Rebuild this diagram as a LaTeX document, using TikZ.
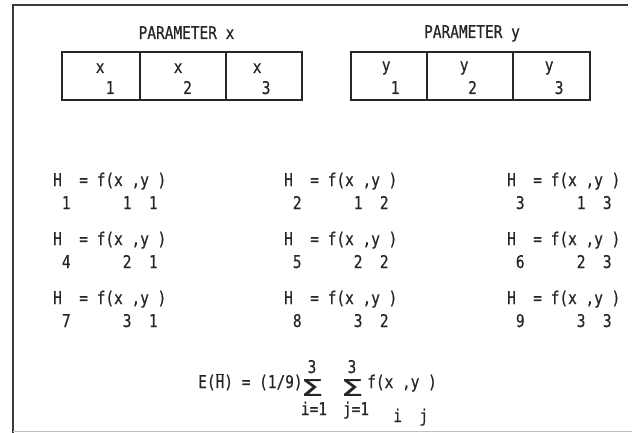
\documentclass[tikz,border=0pt]{standalone}
\usepackage{graphicx}
\usepackage{fontspec}
\newfontfamily\plotfont[FakeStretch=0.826,FakeBold=0.6]{DejaVu Sans Mono}
\newfontfamily\sigfont[FakeBold=0.6]{DejaVu Sans}
\newcommand\ph{\hphantom{0}}
\definecolor{ink}{HTML}{262626}
\definecolor{frameline}{HTML}{3A3A3A}
\newcommand\hexpr[6]{%
  \node[txt] (#1) at (#2,#3) {H\ph\ph=\ph f(x\ph,y\ph)};
  \node[txt] (#1s) at (#2,#3+23) {\ph#4\ph\ph\ph\ph\ph\ph#5\ph\ph#6};}
\begin{document}
\begin{tikzpicture}[x=1pt,y=-1pt,
  txt/.style={font=\plotfont\fontsize{17.5}{19}\selectfont, text=ink, inner sep=0pt, anchor=base west},
  ctxt/.style={txt, anchor=base},
  sig/.style={font=\sigfont\fontsize{21}{21}\selectfont, text=ink, inner sep=0pt, anchor=center},
  boxline/.style={draw=ink, line width=1.8pt}]
\useasboundingbox[fill=white] (0,0) rectangle (632,433);
% frame
\draw[frameline, line width=1.6pt] (13,433) -- (13,5) -- (628,5);
\draw[black!25, line width=1pt] (13,431.5) -- (632,431.5);
% titles
\node[ctxt] (px) at (186.5,39) {PARAMETER x};
\node[ctxt] (py) at (472,38) {PARAMETER y};
% boxes
\draw[boxline] (62,52) rectangle (302,100);
\draw[boxline] (140,52) -- (140,100) (226,52) -- (226,100);
\draw[boxline] (351,52) rectangle (590,100);
\draw[boxline] (427,52) -- (427,100) (513,52) -- (513,100);
% cell contents
\node[txt] (x1) at (95.6,73) {x};  \node[txt] (x1s) at (105.6,94) {1};
\node[txt] (x2) at (173.6,73) {x}; \node[txt] (x2s) at (183,94) {2};
\node[txt] (x3) at (252.6,73) {x}; \node[txt] (x3s) at (261.6,94) {3};
\node[txt] (y1) at (381.6,71) {y}; \node[txt] (y1s) at (390.6,94) {1};
\node[txt] (y2) at (459.6,71) {y}; \node[txt] (y2s) at (468,94) {2};
\node[txt] (y3) at (544.6,71) {y}; \node[txt] (y3s) at (554.6,94) {3};
% H expressions
\hexpr{h1}{53}{186}{1}{1}{1}
\hexpr{h2}{284}{186}{2}{1}{2}
\hexpr{h3}{507}{186}{3}{1}{3}
\hexpr{h4}{53}{245}{4}{2}{1}
\hexpr{h5}{284}{245}{5}{2}{2}
\hexpr{h6}{507}{245}{6}{2}{3}
\hexpr{h7}{53}{304}{7}{3}{1}
\hexpr{h8}{284}{304}{8}{3}{2}
\hexpr{h9}{507}{304}{9}{3}{3}
% expectation
\node[txt] (ee) at (198,388) {E($\overline{\mbox{H}}$)\ph=\ph(1/9)};
\node[sig] (s1) at (312,387.5) {\scalebox{1.7}[1.1]{Σ}};
\node[ctxt] (s1t) at (312,373) {3};
\node[ctxt] (s1b) at (314,415) {i=1};
\node[sig] (s2) at (352,387.5) {\scalebox{1.7}[1.1]{Σ}};
\node[ctxt] (s2t) at (352,373) {3};
\node[ctxt] (s2b) at (356,415) {j=1};
\node[txt] (fe) at (367,388) {f(x\ph,y\ph)};
\node[txt] (fes) at (367,422) {\ph\ph\ph i\ph\ph j};
\end{tikzpicture}
\end{document}
